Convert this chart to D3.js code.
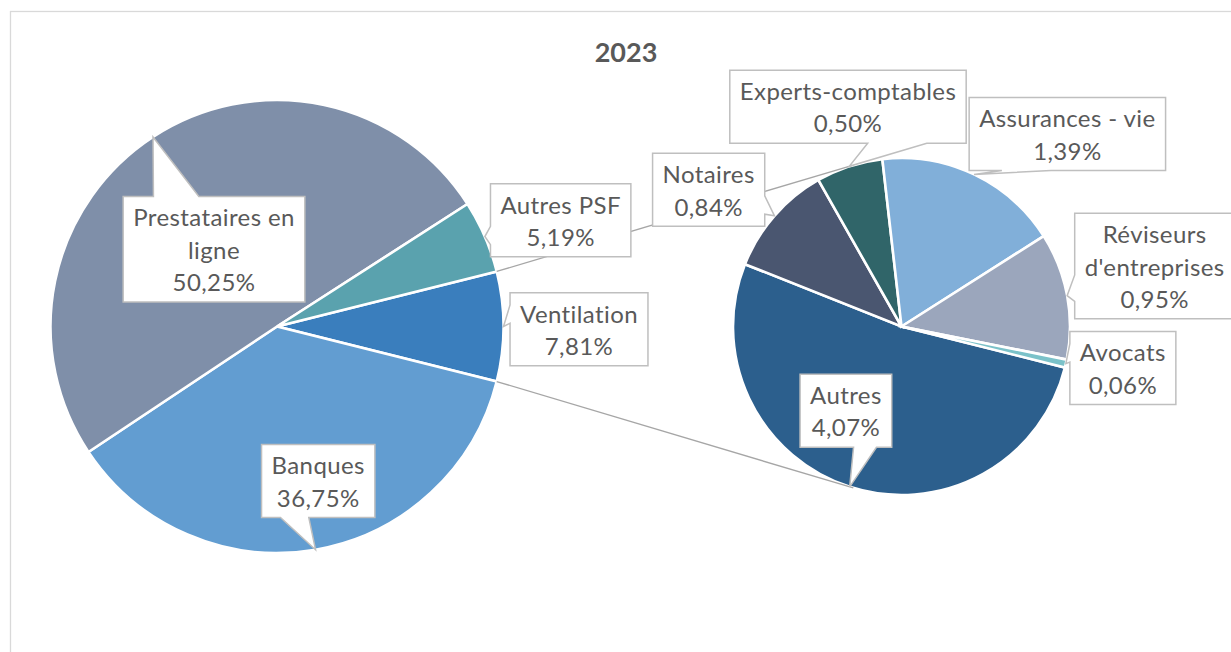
<!DOCTYPE html>
<html><head><meta charset="utf-8">
<script src="https://cdn.jsdelivr.net/npm/d3@7"></script>
<style>html,body{margin:0;padding:0;background:#fff;} svg{display:block;}</style>
</head><body>
<svg id="chart" width="1231" height="652"></svg>
<script>
// ---------- data ----------
const chartTitle = "2023";
const mainCategories = ["Ventilation", "Banques", "Prestataires en ligne", "Autres PSF"];
const mainValues = [7.81, 36.75, 50.25, 5.19];
const splitCategory = "Ventilation";
const subCategories = ["Autres", "Notaires", "Experts-comptables", "Assurances - vie", "Réviseurs d'entreprises", "Avocats"];
const subValues = [4.07, 0.84, 0.50, 1.39, 0.95, 0.06];

// ---------- styles / layout ----------
const mainColors = ["#3A7EBD", "#629DD1", "#7F8FA9", "#5AA2AE"];
const subColors = ["#2C5F8D", "#4A5670", "#306569", "#81AFD9", "#9BA6BC", "#7BC2C9"];
const labelLines = {
  "Prestataires en ligne": ["Prestataires en", "ligne"],
  "Réviseurs d'entreprises": ["Réviseurs", "d'entreprises"]
};
// label box centre, relative to the callout tip
const mainLabelOffsets = [[75.5, 2.8], [2.7, -68.8], [61, 112.3], [75.8, -16.2]];
const subLabelOffsets = [[-3.8, -76.1], [-65.8, -26], [-1.3, -59.6], [93.3, -40.5], [87.5, -29.5], [57, 4.5]];
const subRotationDeg = 104.1;

const W = 1231, H = 652;
const mainC = {x: 277, y: 326.5, r: 226.5};
const subC = {x: 901.5, y: 326.5, r: 168.5};
const FONT = "Lato, 'Open Sans', sans-serif";
const TEXT = "#595959";
const labelSize = 24, labelSpacing = 0.4, lineH = 32.5, padX = 10;

const svg = d3.select("#chart");
const rad = d => d * Math.PI / 180;
const fr = d3.formatLocale({decimal: ",", thousands: " ", grouping: [3], currency: ["", " €"]});
const fmtPct = v => fr.format(".2f")(v) + "%";

// frame
svg.append("rect").attr("x", 10.5).attr("y", 11.5).attr("width", W + 20).attr("height", H + 20)
  .attr("fill", "none").attr("stroke", "#D9D9D9").attr("stroke-width", 1.3);

// title
svg.append("text").attr("x", 626).attr("y", 62).attr("text-anchor", "middle")
  .attr("font-family", FONT).attr("font-weight", 700).attr("font-size", 27)
  .attr("fill", TEXT).text(chartTitle);

// ---------- main pie ----------
const total = d3.sum(mainValues);
const splitIdx = mainCategories.indexOf(splitCategory);
const splitFrac = mainValues[splitIdx] / total;
const mainStart = Math.PI / 2 - splitFrac * Math.PI;
const mainPie = d3.pie().sort(null).value(d => d).startAngle(mainStart).endAngle(mainStart + 2 * Math.PI);
const mainArcs = mainPie(mainValues);
const mainArc = d3.arc().innerRadius(0).outerRadius(mainC.r);

const gMain = svg.append("g").attr("transform", `translate(${mainC.x},${mainC.y})`);
gMain.selectAll("path").data(mainArcs).join("path")
  .attr("d", mainArc).attr("fill", (d, i) => mainColors[i])
  .attr("stroke", "#fff").attr("stroke-width", 2.6).attr("stroke-linejoin", "miter");

// ---------- sub pie ----------
const subStart = rad(subRotationDeg);
const subPie = d3.pie().sort(null).value(d => d).startAngle(subStart).endAngle(subStart + 2 * Math.PI);
const subArcs = subPie(subValues);
const subArc = d3.arc().innerRadius(0).outerRadius(subC.r);
const gSub = svg.append("g").attr("transform", `translate(${subC.x},${subC.y})`);
gSub.selectAll("path").data(subArcs).join("path")
  .attr("d", subArc).attr("fill", (d, i) => subColors[i])
  .attr("stroke", "#fff").attr("stroke-width", 2.6);

// ---------- series lines (tangents) ----------
function polar(c, r, a) { return [c.x + r * Math.sin(a), c.y - r * Math.cos(a)]; }
function tangent(P, C, r, upper) {
  const dx = C.x - P[0], dy = C.y - P[1];
  const d = Math.hypot(dx, dy);
  const phi = Math.atan2(dy, dx), alpha = Math.asin(r / d);
  const ang = upper ? phi - alpha : phi + alpha;
  const L = Math.sqrt(d * d - r * r);
  return [P[0] + L * Math.cos(ang), P[1] + L * Math.sin(ang)];
}
const sa = mainArcs[splitIdx];
const pTop = polar(mainC, mainC.r, sa.startAngle);
const pBot = polar(mainC, mainC.r, sa.endAngle);
const tTop = tangent(pTop, subC, subC.r, true);
const tBot = tangent(pBot, subC, subC.r, false);
svg.append("g").selectAll("line").data([[pTop, tTop], [pBot, tBot]]).join("line")
  .attr("x1", d => d[0][0]).attr("y1", d => d[0][1])
  .attr("x2", d => d[1][0]).attr("y2", d => d[1][1])
  .attr("stroke", "#A6A6A6").attr("stroke-width", 1.3);

// ---------- callout labels ----------
function calloutPath(cx, cy, w, h, tx, ty) {
  const l = cx - w / 2, r = cx + w / 2, t = cy - h / 2, b = cy + h / 2;
  const dxPos = tx - cx, dyPos = ty - cy;
  const dq = dxPos * h / w;
  const dz = Math.abs(dyPos) - Math.abs(dq);
  const x1 = l + w * (dxPos > 0 ? 7 : 2) / 12, x2 = l + w * (dxPos > 0 ? 10 : 5) / 12;
  const y1 = t + h * (dyPos > 0 ? 7 : 2) / 12, y2 = t + h * (dyPos > 0 ? 10 : 5) / 12;
  const p = d3.path();
  p.moveTo(l, t);
  if (dz > 0 && dyPos < 0) { p.lineTo(x1, t); p.lineTo(tx, ty); p.lineTo(x2, t); }
  p.lineTo(r, t);
  if (dz <= 0 && dxPos > 0) { p.lineTo(r, y1); p.lineTo(tx, ty); p.lineTo(r, y2); }
  p.lineTo(r, b);
  if (dz > 0 && dyPos > 0) { p.lineTo(x2, b); p.lineTo(tx, ty); p.lineTo(x1, b); }
  p.lineTo(l, b);
  if (dz <= 0 && dxPos < 0) { p.lineTo(l, y2); p.lineTo(tx, ty); p.lineTo(l, y1); }
  p.closePath();
  return p.toString();
}

function addLabels(arcs, cats, vals, center, offsets) {
  arcs.forEach((a, i) => {
    const mid = (a.startAngle + a.endAngle) / 2;
    const tip = polar(center, center.r, mid);
    const cx = tip[0] + offsets[i][0], cy = tip[1] + offsets[i][1];
    const lines = (labelLines[cats[i]] || [cats[i]]).concat([fmtPct(vals[i])]);
    const g = svg.append("g");
    const box = g.append("path");
    const n = lines.length;
    const texts = g.selectAll("text").data(lines).join("text")
      .attr("x", cx)
      .attr("y", (d, k) => cy + (k - (n - 1) / 2) * lineH + 9.5)
      .attr("text-anchor", "middle").attr("font-family", FONT)
      .attr("font-size", labelSize).attr("letter-spacing", labelSpacing)
      .attr("fill", TEXT).text(d => d);
    let maxW = 0;
    texts.each(function () { maxW = Math.max(maxW, this.getComputedTextLength()); });
    const w = maxW + 2 * padX, h = n * lineH + 8;
    box.attr("d", calloutPath(cx, cy, w, h, tip[0], tip[1]))
      .attr("fill", "#fff").attr("stroke", "#BFBFBF").attr("stroke-width", 1.5)
      .attr("stroke-linejoin", "miter");
  });
}
addLabels(mainArcs, mainCategories, mainValues, mainC, mainLabelOffsets);
addLabels(subArcs, subCategories, subValues, subC, subLabelOffsets);
</script>
</body></html>
